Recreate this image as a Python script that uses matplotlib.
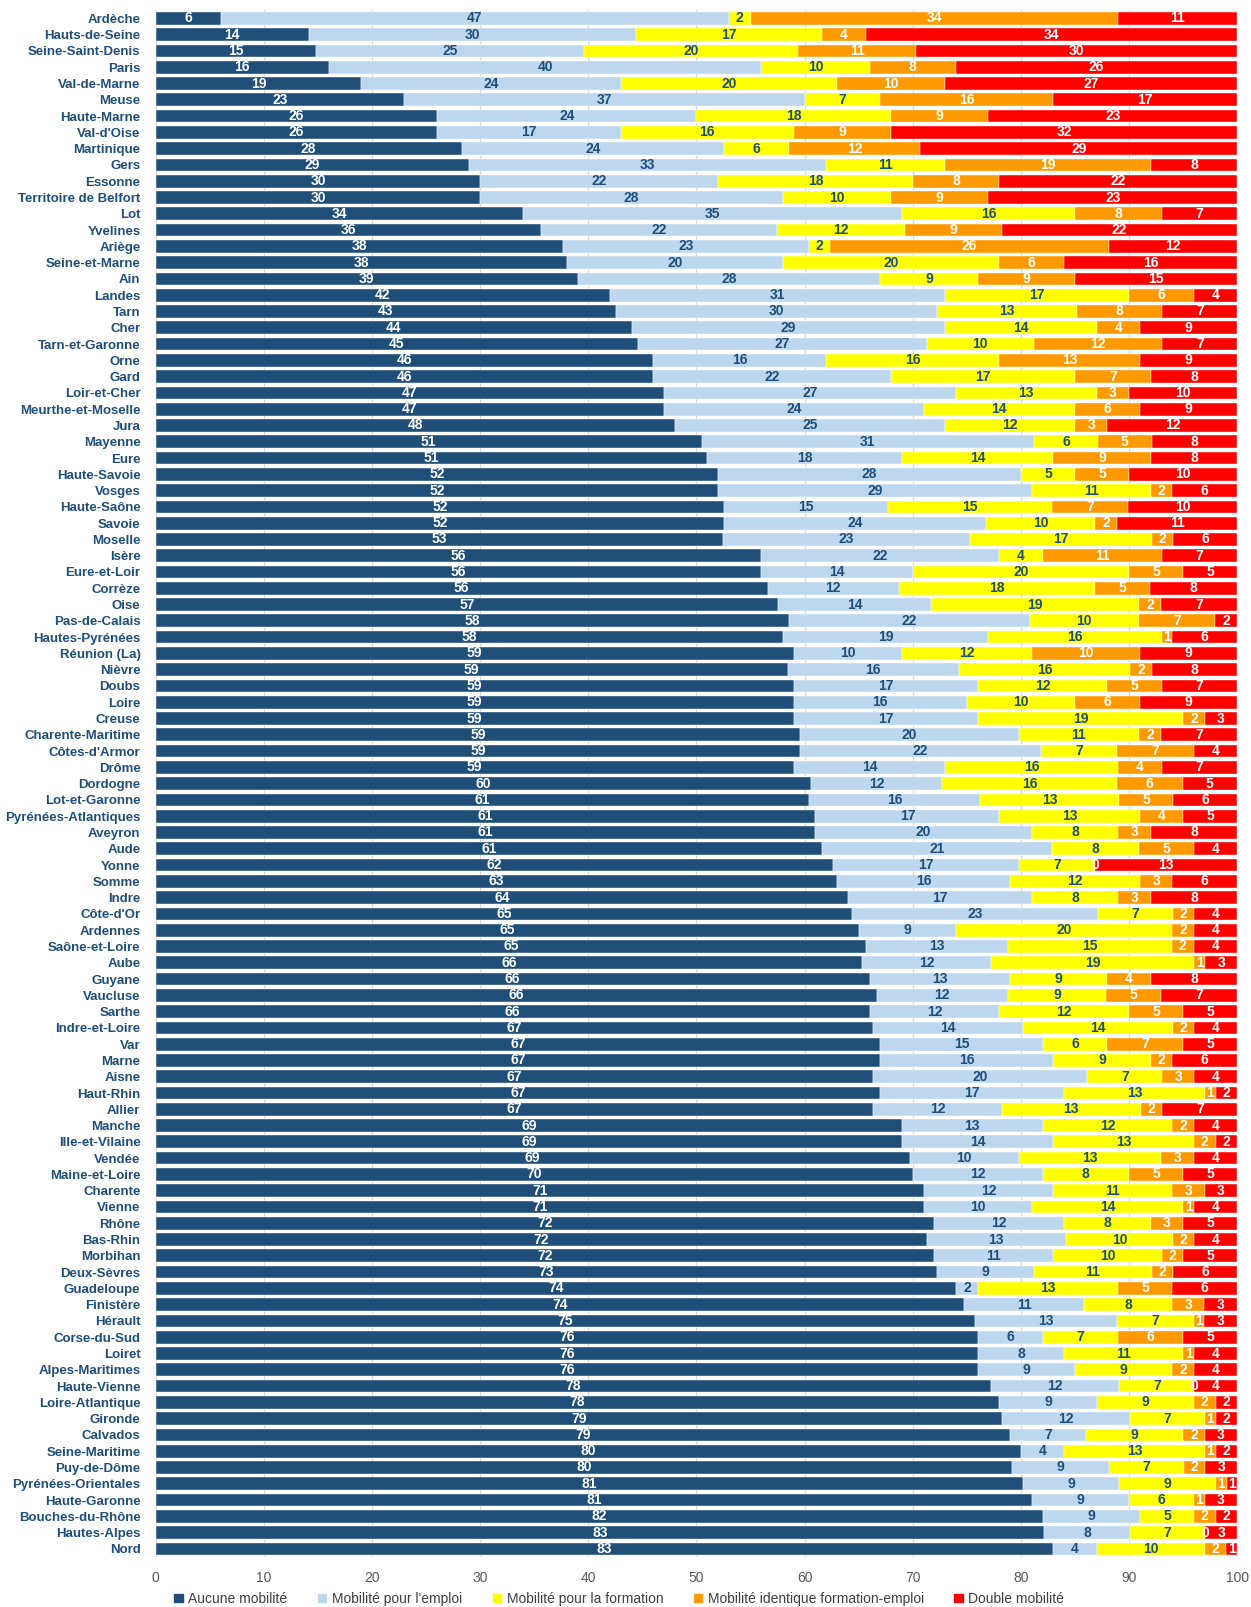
import numpy as np
import matplotlib
matplotlib.use("Agg")
import matplotlib.pyplot as plt
from matplotlib.patches import Patch

plt.rcParams['font.family'] = ['Liberation Sans Narrow', 'Liberation Sans', 'DejaVu Sans']

# departments, top to bottom
depts = ["Ardèche", "Hauts-de-Seine", "Seine-Saint-Denis", "Paris", "Val-de-Marne", "Meuse",
         "Haute-Marne", "Val-d'Oise", "Martinique", "Gers", "Essonne", "Territoire de Belfort",
         "Lot", "Yvelines", "Ariège", "Seine-et-Marne", "Ain", "Landes", "Tarn", "Cher",
         "Tarn-et-Garonne", "Orne", "Gard", "Loir-et-Cher", "Meurthe-et-Moselle", "Jura",
         "Mayenne", "Eure", "Haute-Savoie", "Vosges", "Haute-Saône", "Savoie", "Moselle",
         "Isère", "Eure-et-Loir", "Corrèze", "Oise", "Pas-de-Calais", "Hautes-Pyrénées",
         "Réunion (La)", "Nièvre", "Doubs", "Loire", "Creuse", "Charente-Maritime",
         "Côtes-d'Armor", "Drôme", "Dordogne", "Lot-et-Garonne", "Pyrénées-Atlantiques",
         "Aveyron", "Aude", "Yonne", "Somme", "Indre", "Côte-d'Or", "Ardennes",
         "Saône-et-Loire", "Aube", "Guyane", "Vaucluse", "Sarthe", "Indre-et-Loire", "Var",
         "Marne", "Aisne", "Haut-Rhin", "Allier", "Manche", "Ille-et-Vilaine", "Vendée",
         "Maine-et-Loire", "Charente", "Vienne", "Rhône", "Bas-Rhin", "Morbihan",
         "Deux-Sèvres", "Guadeloupe", "Finistère", "Hérault", "Corse-du-Sud", "Loiret",
         "Alpes-Maritimes", "Haute-Vienne", "Loire-Atlantique", "Gironde", "Calvados",
         "Seine-Maritime", "Puy-de-Dôme", "Pyrénées-Orientales", "Haute-Garonne",
         "Bouches-du-Rhône", "Hautes-Alpes", "Nord"]

aucune = [6, 14, 15, 16, 19, 23, 26, 26, 28, 29, 30, 30, 34, 36, 38, 38, 39, 42, 43, 44,
          45, 46, 46, 47, 47, 48, 51, 51, 52, 52, 52, 52, 53, 56, 56, 56, 57, 58, 58, 59,
          59, 59, 59, 59, 59, 59, 59, 60, 61, 61, 61, 61, 62, 63, 64, 65, 65, 65, 66, 66,
          66, 66, 67, 67, 67, 67, 67, 67, 69, 69, 69, 70, 71, 71, 72, 72, 72, 73, 74, 74,
          75, 76, 76, 76, 78, 78, 79, 79, 80, 80, 81, 81, 82, 83, 83]
emploi = [47, 30, 25, 40, 24, 37, 24, 17, 24, 33, 22, 28, 35, 22, 23, 20, 28, 31, 30, 29,
          27, 16, 22, 27, 24, 25, 31, 18, 28, 29, 15, 24, 23, 22, 14, 12, 14, 22, 19, 10,
          16, 17, 16, 17, 20, 22, 14, 12, 16, 17, 20, 21, 17, 16, 17, 23, 9, 13, 12, 13,
          12, 12, 14, 15, 16, 20, 17, 12, 13, 14, 10, 12, 12, 10, 12, 13, 11, 9, 2, 11,
          13, 6, 8, 9, 12, 9, 12, 7, 4, 9, 9, 9, 9, 8, 4]
formation = [2, 17, 20, 10, 20, 7, 18, 16, 6, 11, 18, 10, 16, 12, 2, 20, 9, 17, 13, 14,
             10, 16, 17, 13, 14, 12, 6, 14, 5, 11, 15, 10, 17, 4, 20, 18, 19, 10, 16, 12,
             16, 12, 10, 19, 11, 7, 16, 16, 13, 13, 8, 8, 7, 12, 8, 7, 20, 15, 19, 9,
             9, 12, 14, 6, 9, 7, 13, 13, 12, 13, 13, 8, 11, 14, 8, 10, 10, 11, 13, 8,
             7, 7, 11, 9, 7, 9, 7, 9, 13, 7, 9, 6, 5, 7, 10]
identique = [34, 4, 11, 8, 10, 16, 9, 9, 12, 19, 8, 9, 8, 9, 26, 6, 9, 6, 8, 4,
             12, 13, 7, 3, 6, 3, 5, 9, 5, 2, 7, 2, 2, 11, 5, 5, 2, 7, 1, 10,
             2, 5, 6, 2, 2, 7, 4, 6, 5, 4, 3, 5, 0, 3, 3, 2, 2, 2, 1, 4,
             5, 5, 2, 7, 2, 3, 1, 2, 2, 2, 3, 5, 3, 1, 3, 2, 2, 2, 5, 3,
             1, 6, 1, 2, 0, 2, 1, 2, 1, 2, 1, 1, 2, 0, 2]
double = [11, 34, 30, 26, 27, 17, 23, 32, 29, 8, 22, 23, 7, 22, 12, 16, 15, 4, 7, 9,
          7, 9, 8, 10, 9, 12, 8, 8, 10, 6, 10, 11, 6, 7, 5, 8, 7, 2, 6, 9,
          8, 7, 9, 3, 7, 4, 7, 5, 6, 5, 8, 4, 13, 6, 8, 4, 4, 4, 3, 8,
          7, 5, 4, 5, 6, 4, 2, 7, 4, 2, 4, 5, 3, 4, 5, 4, 5, 6, 6, 3,
          3, 5, 4, 4, 4, 2, 2, 3, 2, 3, 1, 3, 2, 3, 1]

series_names = ["Aucune mobilité", "Mobilité pour l'emploi", "Mobilité pour la formation",
                "Mobilité identique formation-emploi", "Double mobilité"]
colors = ["#1F4E79", "#BDD7EE", "#FFFF00", "#FF9900", "#FF0000"]
txt_colors = ["white", "#1F4E79", "#1F4E79", "white", "white"]

data = np.array([aucune, emploi, formation, identique, double], dtype=float)
# 100% stacked: each row scaled to 100
pct = data / data.sum(axis=0) * 100

fig = plt.figure(figsize=(12.51, 16.07), dpi=100)
ax = fig.add_axes([0.1245, 0.0311, 0.8645, 0.9625])

y = np.arange(len(depts))
left = np.zeros(len(depts))
for i in range(5):
    ax.barh(y, pct[i], left=left, height=0.78, color=colors[i], edgecolor="white",
            linewidth=0.3, zorder=3)
    for j in range(len(depts)):
        ax.text(left[j] + pct[i][j] / 2, y[j], str(int(data[i][j])), ha="center",
                va="center", fontsize=10, fontweight="bold", color=txt_colors[i], zorder=4)
    left += pct[i]

ax.set_xlim(0, 100)
ax.set_ylim(len(depts) - 0.5, -0.5)
ax.set_xticks(np.arange(0, 101, 10))
ax.set_yticks(y)
ax.set_yticklabels(depts, fontsize=9.5, fontweight="bold", color="#1F4E79")
ax.tick_params(axis="x", length=0, labelsize=10, labelcolor="#595959", pad=10)
ax.tick_params(axis="y", length=0, pad=11)
ax.grid(axis="x", color="#D9D9D9", linewidth=0.8, zorder=0)
for s in ax.spines.values():
    s.set_visible(False)

handles = [Patch(facecolor=c, edgecolor=c) for c in colors]
fig.legend(handles, series_names, loc="center", bbox_to_anchor=(0.495, 0.005), ncol=5,
           frameon=False, fontsize=10, handlelength=0.6, handleheight=0.6,
           handletextpad=0.4, columnspacing=2.2, labelcolor="#404040")

fig.savefig("out.png", dpi=100)
